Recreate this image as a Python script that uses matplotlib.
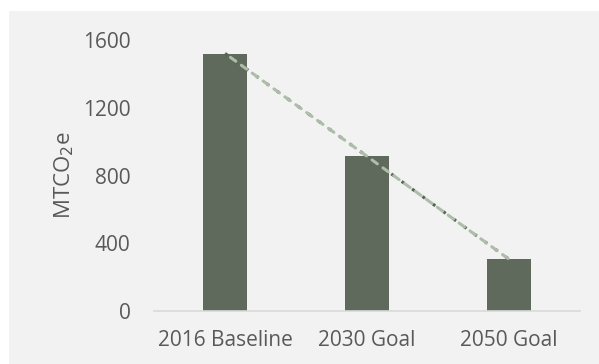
import numpy as np
import matplotlib.pyplot as plt
from matplotlib.patches import Rectangle

# Emissions targets
categories = ["2016 Baseline", "2030 Goal", "2050 Goal"]
emissions = [1520, 915, 305]
y_ticks = [0, 400, 800, 1200, 1600]

bar_color = "#5F6A5C"
text_color = "#595959"
bg_color = "#F2F2F2"

plt.rcParams['font.family'] = ['Open Sans', 'DejaVu Sans']

fig = plt.figure(figsize=(5.99, 3.64), dpi=100)
fig.patch.set_facecolor("white")
# grey chart area (offset from the top/left edges like the original)
fig.patches.append(Rectangle((9 / 599, 0), 1, 1 - 11 / 364, transform=fig.transFigure,
                             facecolor=bg_color, edgecolor="none", zorder=-10))

ax = fig.add_axes([154 / 599, 53 / 364, 426 / 599, 271 / 364])
ax.set_facecolor("none")

x = np.arange(len(categories))
ax.bar(x, emissions, width=0.31, color=bar_color, zorder=2)

# linear trendline
slope, intercept = np.polyfit(x, emissions, 1)
trend = slope * x + intercept
ax.plot(x, trend, color="#556552", lw=2.2, ls=(0, (1, 3.2)), zorder=3)
ax.plot(x, trend, color="#ADBDAA", lw=2.2, ls=(2.2, (2.2, 2.2)),
        solid_capstyle="round", dash_capstyle="round", zorder=4)

ax.set_xlim(-0.5, len(categories) - 0.5)
ax.set_ylim(0, 1600)
ax.set_yticks(y_ticks)
ax.set_xticks(x)
ax.set_xticklabels(categories)
ax.tick_params(length=0, labelsize=15, labelcolor=text_color)
ax.tick_params(axis="y", pad=17)
ax.tick_params(axis="x", pad=14)

for side in ["top", "right", "left"]:
    ax.spines[side].set_visible(False)
ax.spines["bottom"].set_color("#D9D9D9")
ax.spines["bottom"].set_linewidth(1.2)

ax.set_ylabel("MTCO$_2$e", fontsize=16, color=text_color, labelpad=5)

fig.savefig("out.png", dpi=100, facecolor=fig.get_facecolor())
